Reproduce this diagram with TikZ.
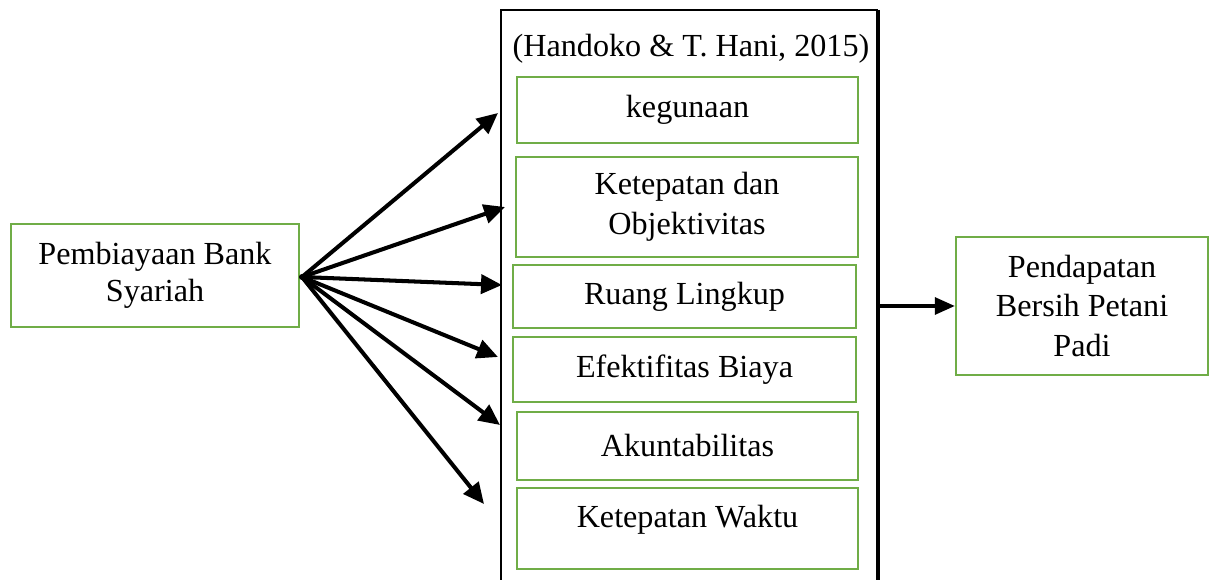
\documentclass[tikz,border=0pt]{standalone}
\usepackage{fontspec}
\setmainfont{Liberation Serif}
\usetikzlibrary{arrows.meta}
\definecolor{boxgreen}{RGB}{112,173,71}
\begin{document}
\begin{tikzpicture}[x=0.02cm,y=-0.02cm,
  txt/.style={font=\fontsize{18.3pt}{22.6pt}\selectfont, align=center, inner sep=0pt},
  gbox/.style={txt, draw=boxgreen, line width=1.4pt},
  arr/.style={line width=2.3pt, -{Triangle[length=0.42cm,width=0.38cm]}},
  frame/.style={line width=1.4pt}]
\useasboundingbox (0,0) rectangle (1213,580);
% container
\coordinate (bl) at (501,585);
\coordinate (tl) at (501,10);
\coordinate (tr) at (878,10);
\coordinate (br) at (878,585);
\draw[frame] (bl) -- (tl) -- (tr);
\draw[line width=2.2pt] (tr) -- (br);
\node[txt, anchor=base] (title) at (691,57) {(Handoko \& T. Hani, 2015)};
% inner boxes
\node[gbox, minimum width=6.82cm, minimum height=1.32cm] (b1) at (687.5,110) {kegunaan};
\node[gbox, minimum width=6.84cm, minimum height=2.0cm] (b2) at (687,207) {Ketepatan dan\\Objektivitas};
\node[gbox, minimum width=6.86cm, minimum height=1.26cm] (b3) at (684.5,296.5) {Ruang Lingkup};
\node[gbox, minimum width=6.86cm, minimum height=1.3cm] (b4) at (684.5,369.5) {Efektifitas Biaya};
\node[gbox, minimum width=6.82cm, minimum height=1.36cm] (b5) at (687.5,446) {Akuntabilitas};
\node[gbox, minimum width=6.82cm, minimum height=1.62cm] (b6) at (687.5,528.5) {};
\node[txt, anchor=base] (b6t) at (687.5,527) {Ketepatan Waktu};
% outer boxes
\node[gbox, font=\fontsize{18.3pt}{21pt}\selectfont, minimum width=5.76cm, minimum height=2.06cm] (src) at (155,275.5) {Pembiayaan Bank\\Syariah};
\node[gbox, minimum width=5.04cm, minimum height=2.76cm] (dst) at (1082,306) {Pendapatan\\Bersih Petani\\Padi};
% arrows
\coordinate (o) at (302,277);
\coordinate (t1) at (498,113);
\coordinate (t2) at (505,207);
\coordinate (t3) at (502,285);
\coordinate (t4) at (498,357);
\coordinate (t5) at (500,425);
\coordinate (t6) at (484,504);
\foreach \t in {t1,t2,t3,t4,t5,t6}{\draw[arr] (o) -- (\t);}
\fill (o) circle (3);
\coordinate (r0) at (879,306);
\draw[line width=1.8pt, -{Triangle[length=0.4cm,width=0.34cm]}] (r0) -- (dst.west);
\end{tikzpicture}
\end{document}
